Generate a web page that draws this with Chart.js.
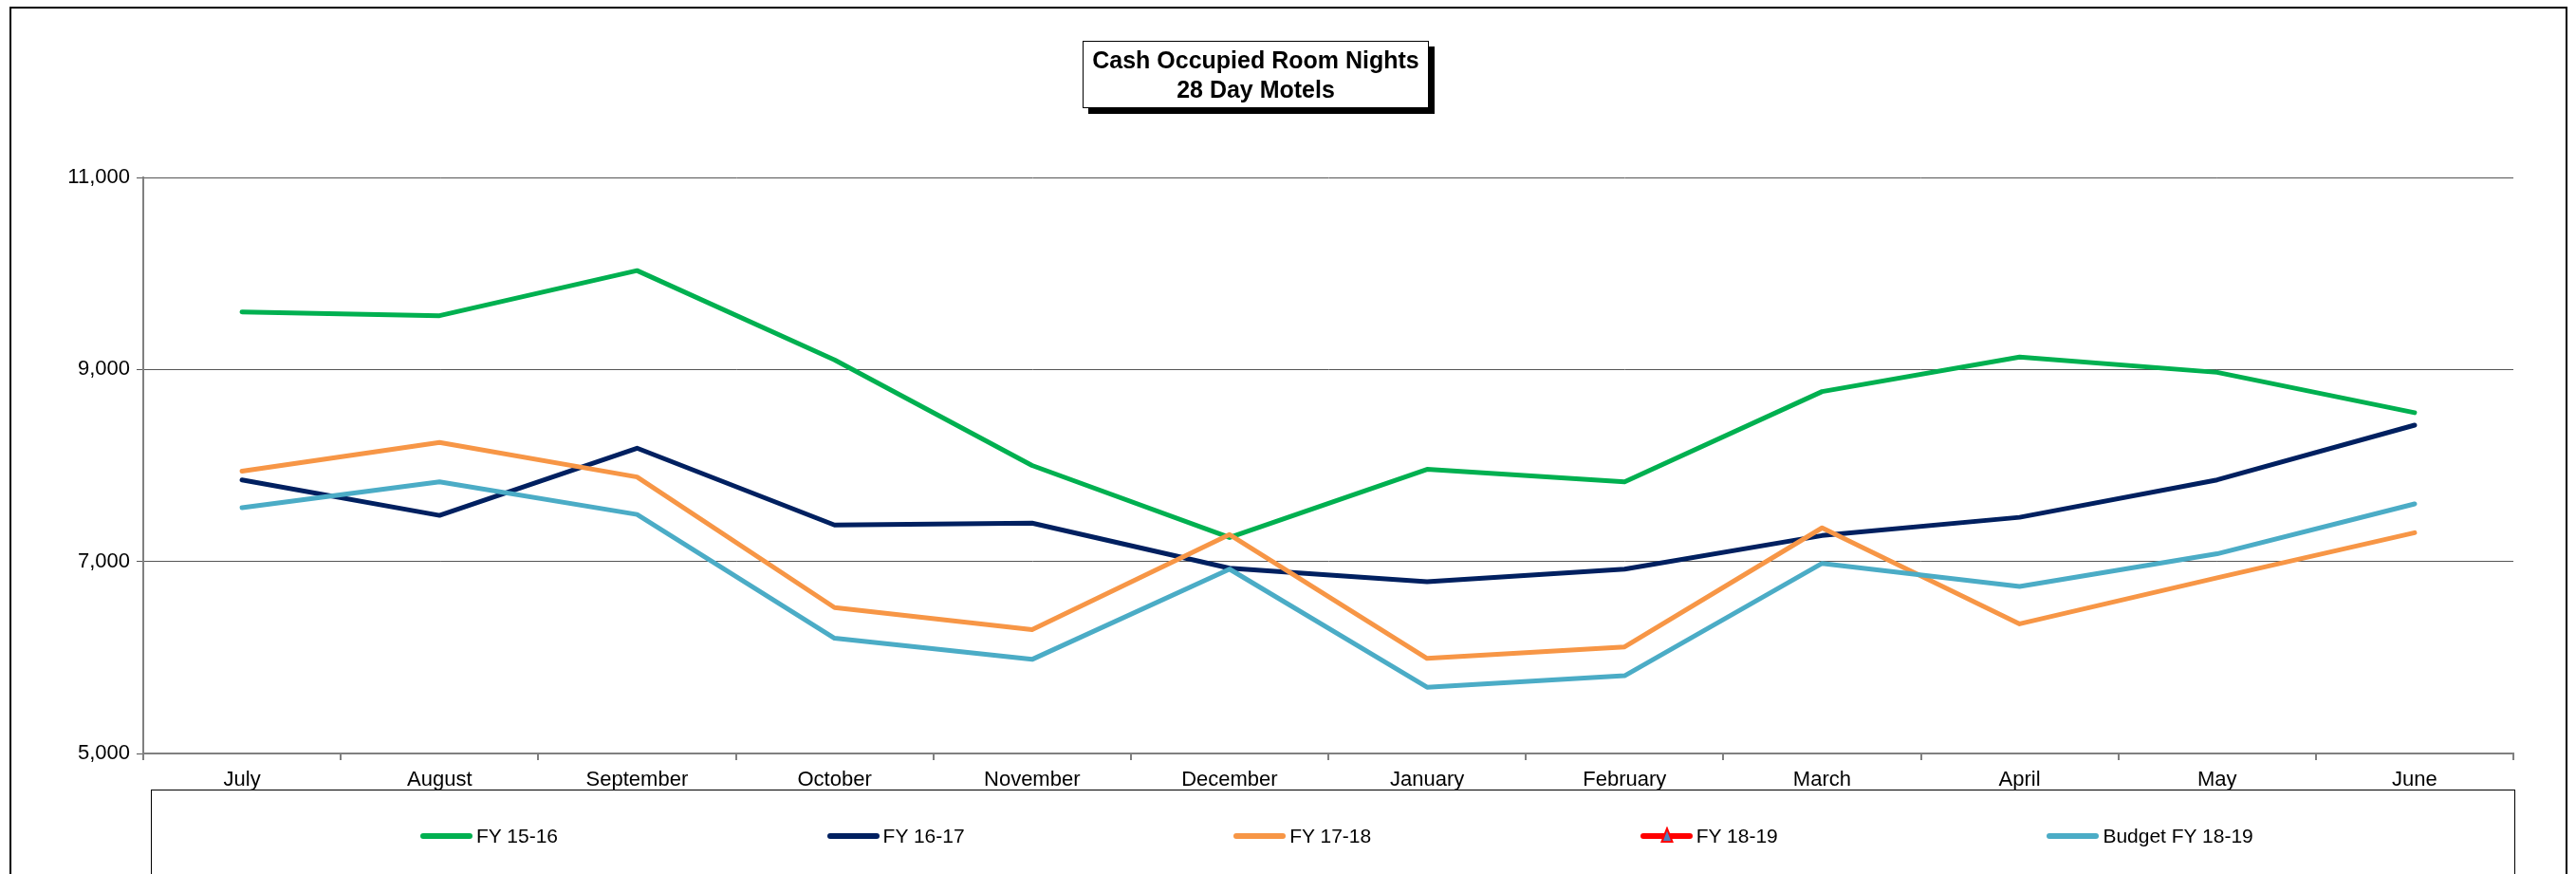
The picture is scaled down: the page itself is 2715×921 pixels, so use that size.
<!DOCTYPE html>
<html>
<head>
<meta charset="utf-8">
<title>Cash Occupied Room Nights - 28 Day Motels</title>
<script src="https://cdn.jsdelivr.net/npm/chart.js@4.4.1/dist/chart.umd.min.js"></script>
<style>
  html, body { margin: 0; padding: 0; background: #fff; }
  #wrap { position: relative; width: 2715px; height: 921px; overflow: hidden; font-family: "Liberation Sans", Arial, sans-serif; }
  #chart { position: absolute; left: 0; top: 0; }
  #frame { position: absolute; left: 10px; top: 7px; width: 2696px; height: 960px; border: 2px solid #000; box-sizing: border-box; pointer-events: none; }
  #title { position: absolute; left: 1141px; top: 43px; width: 365px; height: 71px; box-sizing: border-box;
           border: 1.5px solid #000; background: #fff; box-shadow: 6px 6px 0 #000;
           font-weight: bold; font-size: 25px; line-height: 31px; text-align: center; padding-top: 4px; color: #000; }
  #legend { position: absolute; left: 159px; top: 832px; width: 2492px; height: 140px; border: 1.5px solid #000; box-sizing: border-box; pointer-events: none; }
  .item { position: absolute; top: 35px; height: 26px; display: flex; align-items: center; font-size: 21px; color: #000; white-space: nowrap; }
  .swatch { position: relative; width: 55px; height: 6px; border-radius: 3px; margin-right: 4px; }
  .swatch svg { position: absolute; left: 21px; top: -7px; }
</style>
</head>
<body>
<div id="wrap">
  <canvas id="chart" width="2715" height="921"></canvas>
  <div id="frame"></div>
  <div id="title">Cash Occupied Room Nights<br>28 Day Motels</div>
  <div id="legend"></div>
</div>
<script>
const months = ['July', 'August', 'September', 'October', 'November', 'December',
                'January', 'February', 'March', 'April', 'May', 'June'];

const fy1516 = [9600, 9560, 10030, 9100, 8000, 7250, 7960, 7830, 8770, 9130, 8970, 8550];
const fy1617 = [7850, 7480, 8180, 7380, 7400, 6930, 6790, 6920, 7270, 7460, 7850, 8420];
const fy1718 = [7940, 8240, 7880, 6520, 6290, 7280, 5990, 6110, 7350, 6350, 6830, 7300];
const fy1819 = [null, null, null, null, null, null, null, null, null, null, null, null];
const budget1819 = [7560, 7830, 7490, 6200, 5980, 6920, 5690, 5810, 6980, 6740, 7080, 7600];

const yTicks = [5000, 7000, 9000, 11000];

function series(label, data, color, idx) {
    return {
        label: label,
        data: data,
        borderColor: color,
        backgroundColor: color,
        borderWidth: 5,
        borderCapStyle: 'round',
        borderJoinStyle: 'round',
        pointRadius: 0,
        tension: 0,
        fill: false,
        order: -idx   // later series drawn on top, like the original
    };
}

const datasets = [
    series('FY 15-16', fy1516, '#00B050', 0),
    series('FY 16-17', fy1617, '#002060', 1),
    series('FY 17-18', fy1718, '#F79646', 2),
    series('FY 18-19', fy1819, '#FF0000', 3),
    series('Budget FY 18-19', budget1819, '#4BACC6', 4)
];
datasets[3].pointStyle = 'triangle';
datasets[3].pointRadius = 6;
datasets[3].pointBackgroundColor = '#4F81BD';

const tickFont = { family: '"Liberation Sans", Arial, sans-serif', size: 22 };

const chart = new Chart(document.getElementById('chart'), {
    type: 'line',
    data: { labels: months, datasets: datasets },
    options: {
        responsive: false,
        animation: false,
        layout: { padding: { left: 0, top: 187, right: 66, bottom: 0 } },
        plugins: { legend: { display: false }, title: { display: false }, tooltip: { enabled: false } },
        scales: {
            x: {
                offset: true,
                grid: { drawOnChartArea: false, drawTicks: true, tickLength: 7, color: '#808080', lineWidth: 2, offset: true },
                border: { color: '#808080', width: 2 },
                ticks: { font: tickFont, color: '#000', padding: 8, maxRotation: 0, autoSkip: false },
                afterFit: (s) => { s.height = 127; }
            },
            y: {
                min: 5000,
                max: 11000,
                afterBuildTicks: (s) => { s.ticks = yTicks.map(v => ({ value: v })); },
                grid: { color: '#555', lineWidth: 1, tickLength: 7, drawTicks: true },
                border: { color: '#808080', width: 2 },
                ticks: { font: tickFont, color: '#000', padding: 7,
                         callback: (v) => Number(v).toLocaleString('en-US') },
                afterFit: (s) => { s.width = 151; }
            }
        }
    }
});

// legend entries built from the datasets
const legend = document.getElementById('legend');
chart.data.datasets.forEach((ds, i) => {
    const item = document.createElement('div');
    item.className = 'item';
    item.style.left = (283 + i * 428.6) + 'px';
    const sw = document.createElement('div');
    sw.className = 'swatch';
    sw.style.background = ds.borderColor;
    if (ds.pointStyle === 'triangle') {
        sw.innerHTML = '<svg width="14" height="18" viewBox="0 0 14 18"><polygon points="7,2 12.5,16 1.5,16" fill="#4F81BD" stroke="#FF0000" stroke-width="2"/></svg>';
    }
    item.appendChild(sw);
    const txt = document.createElement('span');
    txt.textContent = ds.label;
    item.appendChild(txt);
    legend.appendChild(item);
});
</script>
</body>
</html>
